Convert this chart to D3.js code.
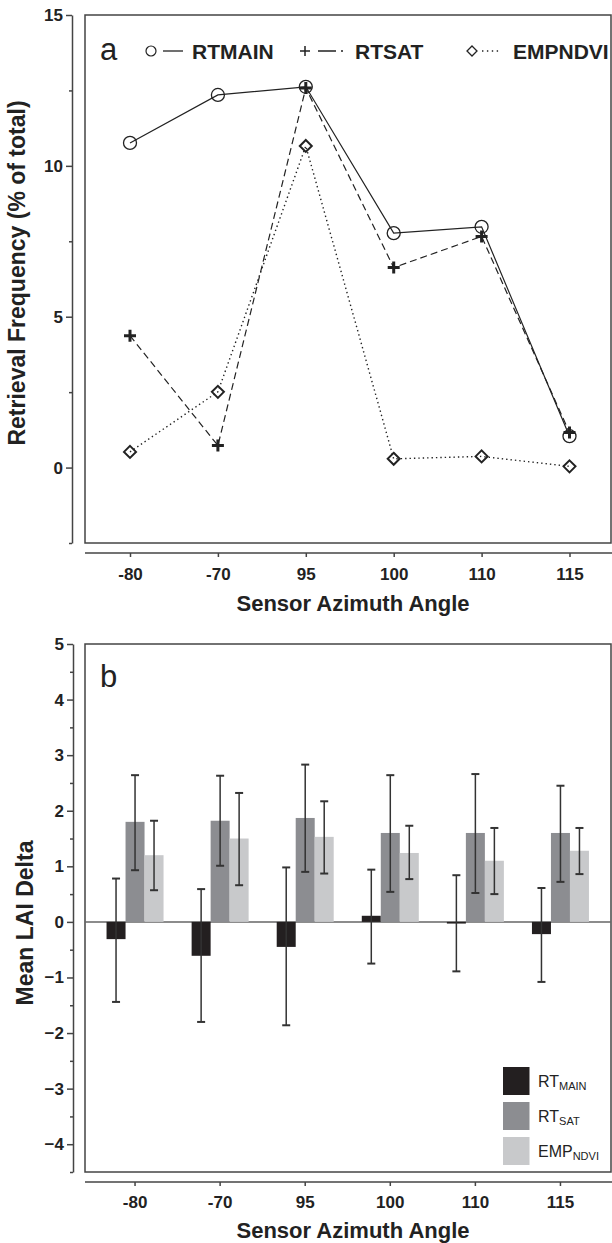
<!DOCTYPE html>
<html lang="en">
<head>
<meta charset="utf-8" />
<script src="https://cdn.jsdelivr.net/npm/d3@7"></script>
<style>
  body { margin: 0; background: #fff; }
  svg text { font-family: "Liberation Sans", Arial, sans-serif; fill: #222; }
</style>
</head>
<body>
<div id="chart"></div>
<script>
// sensor azimuth angle categories
var angles = ["-80", "-70", "95", "100", "110", "115"];

// panel a: retrieval frequency (% of total)
var rtMain  = [10.76, 12.35, 12.62, 7.77, 7.98, 1.04];
var rtSat   = [4.37, 0.73, 12.58, 6.63, 7.66, 1.16];
var empNdvi = [0.52, 2.51, 10.66, 0.29, 0.37, 0.04];

// panel b: mean LAI delta with error bar ends
var barMain = [-0.31, -0.61, -0.45, 0.11, -0.03, -0.22];
var mainHi  = [0.78, 0.59, 0.98, 0.94, 0.84, 0.61];
var mainLo  = [-1.44, -1.80, -1.86, -0.75, -0.89, -1.08];
var barSat  = [1.80, 1.82, 1.87, 1.60, 1.60, 1.60];
var satHi   = [2.64, 2.63, 2.83, 2.64, 2.66, 2.45];
var satLo   = [0.93, 1.01, 0.90, 0.54, 0.52, 0.72];
var barNdvi = [1.20, 1.50, 1.53, 1.24, 1.10, 1.28];
var ndviHi  = [1.82, 2.32, 2.17, 1.73, 1.69, 1.69];
var ndviLo  = [0.57, 0.66, 0.87, 0.77, 0.50, 0.86];

var W = 612, H = 1243;
var ink = "#222", frameCol = "#444";
var svg = d3.select("#chart").append("svg").attr("width", W).attr("height", H);

// ---------- panel a ----------
var yA = d3.scaleLinear().domain([-2.5, 15]).range([543, 15]);
var xA = d3.scalePoint().domain(angles).range([130, 569.5]);

var gA = svg.append("g");
gA.append("rect").attr("x", 85).attr("y", 15).attr("width", 526).attr("height", 528)
  .attr("fill", "none").attr("stroke", frameCol).attr("stroke-width", 1.5);

var yAxA = gA.append("g").attr("transform", "translate(72,0)")
  .call(d3.axisLeft(yA).tickValues([0, 5, 10, 15]).tickSize(6).tickSizeOuter(0).tickPadding(3));
gA.append("g").attr("transform", "translate(72,0)")
  .call(d3.axisLeft(yA).tickValues([-2.5, 2.5, 7.5, 12.5]).tickSize(3).tickSizeOuter(0).tickFormat(""))
  .select(".domain").remove();

var xAxA = gA.append("g").attr("transform", "translate(0,553)")
  .call(d3.axisBottom(xA).tickSize(4).tickSizeOuter(0).tickPadding(11));
xAxA.select(".domain").remove();
gA.append("line").attr("x1", 85).attr("x2", 612).attr("y1", 553).attr("y2", 553)
  .attr("stroke", frameCol).attr("stroke-width", 1.5);

[yAxA, xAxA].forEach(function(ax) {
  ax.selectAll("text").attr("font-size", 17).attr("font-weight", "bold")
    .attr("font-family", "Liberation Sans, Arial, sans-serif").attr("fill", ink);
  ax.selectAll("line, path").attr("stroke", frameCol).attr("stroke-width", 1.5);
});
gA.selectAll("g.tick line").attr("stroke", frameCol).attr("stroke-width", 1.5);

gA.append("text").attr("x", 353).attr("y", 611).attr("text-anchor", "middle")
  .attr("font-size", 22).attr("font-weight", "bold").text("Sensor Azimuth Angle");
gA.append("text").attr("transform", "translate(25,273) rotate(-90)").attr("text-anchor", "middle")
  .attr("font-size", 23).attr("font-weight", "bold").text("Retrieval Frequency (% of total)");

var lineA = function(vals) {
  return d3.line().x(function(d, i) { return xA(angles[i]); }).y(function(d) { return yA(d); })(vals);
};
gA.append("path").attr("d", lineA(rtMain)).attr("fill", "none").attr("stroke", ink).attr("stroke-width", 1.2);
gA.append("path").attr("d", lineA(rtSat)).attr("fill", "none").attr("stroke", ink).attr("stroke-width", 1.2)
  .attr("stroke-dasharray", "7,4");
gA.append("path").attr("d", lineA(empNdvi)).attr("fill", "none").attr("stroke", ink).attr("stroke-width", 1.4)
  .attr("stroke-dasharray", "1.4,3");

function circleMark(g, x, y, r, sw) {
  g.append("circle").attr("cx", x).attr("cy", y).attr("r", r)
    .attr("fill", "none").attr("stroke", ink).attr("stroke-width", sw);
}
function diamondMark(g, x, y, s, sw) {
  g.append("path").attr("d", "M" + x + "," + (y - s) + "L" + (x + s) + "," + y + "L" + x + "," + (y + s) + "L" + (x - s) + "," + y + "Z")
    .attr("fill", "none").attr("stroke", ink).attr("stroke-width", sw);
}
function plusMark(g, x, y, s, sw) {
  g.append("path").attr("d", "M" + (x - s) + "," + y + "H" + (x + s) + "M" + x + "," + (y - s) + "V" + (y + s))
    .attr("stroke", ink).attr("stroke-width", sw);
}

empNdvi.forEach(function(v, i) { diamondMark(gA, xA(angles[i]), yA(v), 6, 2); });
rtMain.forEach(function(v, i) { circleMark(gA, xA(angles[i]), yA(v), 6.5, 1.3); });
rtSat.forEach(function(v, i) { plusMark(gA, xA(angles[i]), yA(v), 6, 3); });

// legend a
gA.append("text").attr("x", 100).attr("y", 60).attr("font-size", 31).text("a");
circleMark(gA, 151, 51, 5, 1.2);
gA.append("line").attr("x1", 163).attr("x2", 183).attr("y1", 51).attr("y2", 51).attr("stroke", ink).attr("stroke-width", 1.3);
gA.append("text").attr("x", 192).attr("y", 59).attr("font-size", 21).attr("font-weight", "bold").text("RTMAIN");
plusMark(gA, 305, 51, 5, 1.5);
gA.append("line").attr("x1", 318).attr("x2", 345).attr("y1", 51).attr("y2", 51).attr("stroke", ink).attr("stroke-width", 1.3)
  .attr("stroke-dasharray", "18,5,2,50");
gA.append("text").attr("x", 355).attr("y", 59).attr("font-size", 21).attr("font-weight", "bold").text("RTSAT");
diamondMark(gA, 472, 51, 5, 1.3);
gA.append("line").attr("x1", 482).attr("x2", 500).attr("y1", 51).attr("y2", 51).attr("stroke", ink).attr("stroke-width", 1.4)
  .attr("stroke-dasharray", "1.4,3.5");
gA.append("text").attr("x", 513).attr("y", 59).attr("font-size", 21).attr("font-weight", "bold").text("EMPNDVI");

// ---------- panel b ----------
var yB = d3.scaleLinear().domain([-4.5, 5]).range([1172, 644]);
var xB = d3.scaleBand().domain(angles).range([92.5, 603]);
var barW = 19;
var series = [
  { vals: barMain, hi: mainHi, lo: mainLo, color: "#231f20", off: -1 },
  { vals: barSat,  hi: satHi,  lo: satLo,  color: "#8c8d91", off: 0 },
  { vals: barNdvi, hi: ndviHi, lo: ndviLo, color: "#c8c9cb", off: 1 }
];

var gB = svg.append("g");
gB.append("rect").attr("x", 85).attr("y", 644).attr("width", 526).attr("height", 528)
  .attr("fill", "none").attr("stroke", frameCol).attr("stroke-width", 1.5);

var yAxB = gB.append("g").attr("transform", "translate(73,0)")
  .call(d3.axisLeft(yB).tickValues(d3.range(-4, 6)).tickSize(6).tickSizeOuter(0).tickPadding(3));
gB.append("g").attr("transform", "translate(73,0)")
  .call(d3.axisLeft(yB).tickValues(d3.range(-4.5, 5, 1)).tickSize(3).tickSizeOuter(0).tickFormat(""))
  .select(".domain").remove();

var xAxB = gB.append("g").attr("transform", "translate(0,1182)")
  .call(d3.axisBottom(xB).tickSize(4).tickSizeOuter(0).tickPadding(10));
xAxB.select(".domain").remove();
gB.append("line").attr("x1", 85).attr("x2", 612).attr("y1", 1182).attr("y2", 1182)
  .attr("stroke", frameCol).attr("stroke-width", 1.5);

[yAxB, xAxB].forEach(function(ax) {
  ax.selectAll("text").attr("font-size", 17).attr("font-weight", "bold")
    .attr("font-family", "Liberation Sans, Arial, sans-serif").attr("fill", ink);
  ax.selectAll("line, path").attr("stroke", frameCol).attr("stroke-width", 1.5);
});
gB.selectAll("g.tick line").attr("stroke", frameCol).attr("stroke-width", 1.5);

gB.append("text").attr("x", 353).attr("y", 1238).attr("text-anchor", "middle")
  .attr("font-size", 22).attr("font-weight", "bold").text("Sensor Azimuth Angle");
gB.append("text").attr("transform", "translate(33,923) rotate(-90)").attr("text-anchor", "middle")
  .attr("font-size", 23).attr("font-weight", "bold").text("Mean LAI Delta");

// zero line
gB.append("line").attr("x1", 85).attr("x2", 611).attr("y1", yB(0)).attr("y2", yB(0))
  .attr("stroke", "#666").attr("stroke-width", 1.5);

series.forEach(function(s) {
  angles.forEach(function(a, i) {
    var cx = xB(a) + xB.bandwidth() / 2 + s.off * barW;
    var v = s.vals[i];
    gB.append("rect").attr("x", cx - barW / 2).attr("width", barW)
      .attr("y", yB(Math.max(0, v))).attr("height", Math.abs(yB(v) - yB(0)))
      .attr("fill", s.color);
  });
});
series.forEach(function(s) {
  angles.forEach(function(a, i) {
    var cx = xB(a) + xB.bandwidth() / 2 + s.off * barW;
    var eb = gB.append("g").attr("stroke", "#333");
    eb.append("line").attr("x1", cx).attr("x2", cx).attr("y1", yB(s.hi[i])).attr("y2", yB(s.lo[i])).attr("stroke-width", 1.5);
    eb.append("line").attr("x1", cx - 4).attr("x2", cx + 4).attr("y1", yB(s.hi[i])).attr("y2", yB(s.hi[i])).attr("stroke-width", 2);
    eb.append("line").attr("x1", cx - 4).attr("x2", cx + 4).attr("y1", yB(s.lo[i])).attr("y2", yB(s.lo[i])).attr("stroke-width", 2);
  });
});

// legend b
gB.append("text").attr("x", 100).attr("y", 687).attr("font-size", 31).text("b");
var legB = [
  { main: "RT", sub: "MAIN", color: "#231f20" },
  { main: "RT", sub: "SAT", color: "#8c8d91" },
  { main: "EMP", sub: "NDVI", color: "#c8c9cb" }
];
legB.forEach(function(d, i) {
  var y0 = 1067 + i * 35;
  gB.append("rect").attr("x", 503).attr("y", y0).attr("width", 26.5).attr("height", 28).attr("fill", d.color);
  var t = gB.append("text").attr("x", 538).attr("y", y0 + 20).attr("font-size", 16);
  t.append("tspan").text(d.main);
  t.append("tspan").attr("font-size", 11).attr("dy", 3).text(d.sub);
});
</script>
</body>
</html>
